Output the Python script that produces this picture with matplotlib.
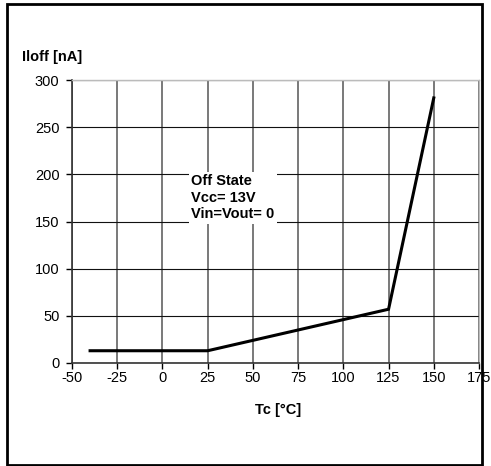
import numpy as np
import matplotlib.pyplot as plt
from matplotlib.patches import Rectangle

plt.rcParams['font.family'] = ['Liberation Sans', 'DejaVu Sans']
plt.rcParams['axes.unicode_minus'] = False

# Off-state leakage current vs case temperature
tc = [-40, 25, 125, 150]
iloff = [13, 13, 57, 281]

xticks = [-50, -25, 0, 25, 50, 75, 100, 125, 150, 175]
yticks = [0, 50, 100, 150, 200, 250, 300]

W, H = 491, 466
fig = plt.figure(figsize=(W / 100, H / 100), dpi=100)
ax = fig.add_axes([72 / W, 1 - 363 / H, (479 - 72) / W, (363 - 80) / H])

ax.plot(tc, iloff, color='black', lw=2.2, zorder=3, solid_joinstyle='miter')
ax.set_xlim(-50, 175)
ax.set_ylim(0, 300)
ax.set_xticks(xticks)
ax.set_yticks(yticks)
ax.tick_params(labelsize=10.5, length=4, width=1, direction='out')
ax.tick_params(axis='y', pad=5)
ax.tick_params(axis='x', pad=1.5)
ax.xaxis.grid(True, color='#555555', lw=1.1)
ax.yaxis.grid(True, color='#111111', lw=0.8)
ax.set_axisbelow(True)

for s in ['top', 'right']:
    ax.spines[s].set_color('#bbbbbb')
    ax.spines[s].set_linewidth(1)
for s in ['left', 'bottom']:
    ax.spines[s].set_color('#333333')
    ax.spines[s].set_linewidth(1.2)

ax.text(16, 200, 'Off State\nVcc= 13V\nVin=Vout= 0', fontsize=10.5,
        fontweight='bold', va='top', ha='left', linespacing=1.2,
        bbox=dict(facecolor='white', edgecolor='none', pad=2), zorder=2)

fig.text(22 / W, 1 - 57 / H, 'Iloff [nA]', fontsize=10.5, fontweight='bold',
         va='center', ha='left')
fig.text(278 / W, 1 - 410 / H, 'Tc [°C]', fontsize=10.5, fontweight='bold',
         va='center', ha='center')

# outer frame
fig.patches.append(Rectangle((7 / W, 1 - 465 / H), (482 - 7) / W, (465 - 4) / H,
                             transform=fig.transFigure, fill=False,
                             edgecolor='black', lw=2))

fig.savefig('out.png', dpi=100)
